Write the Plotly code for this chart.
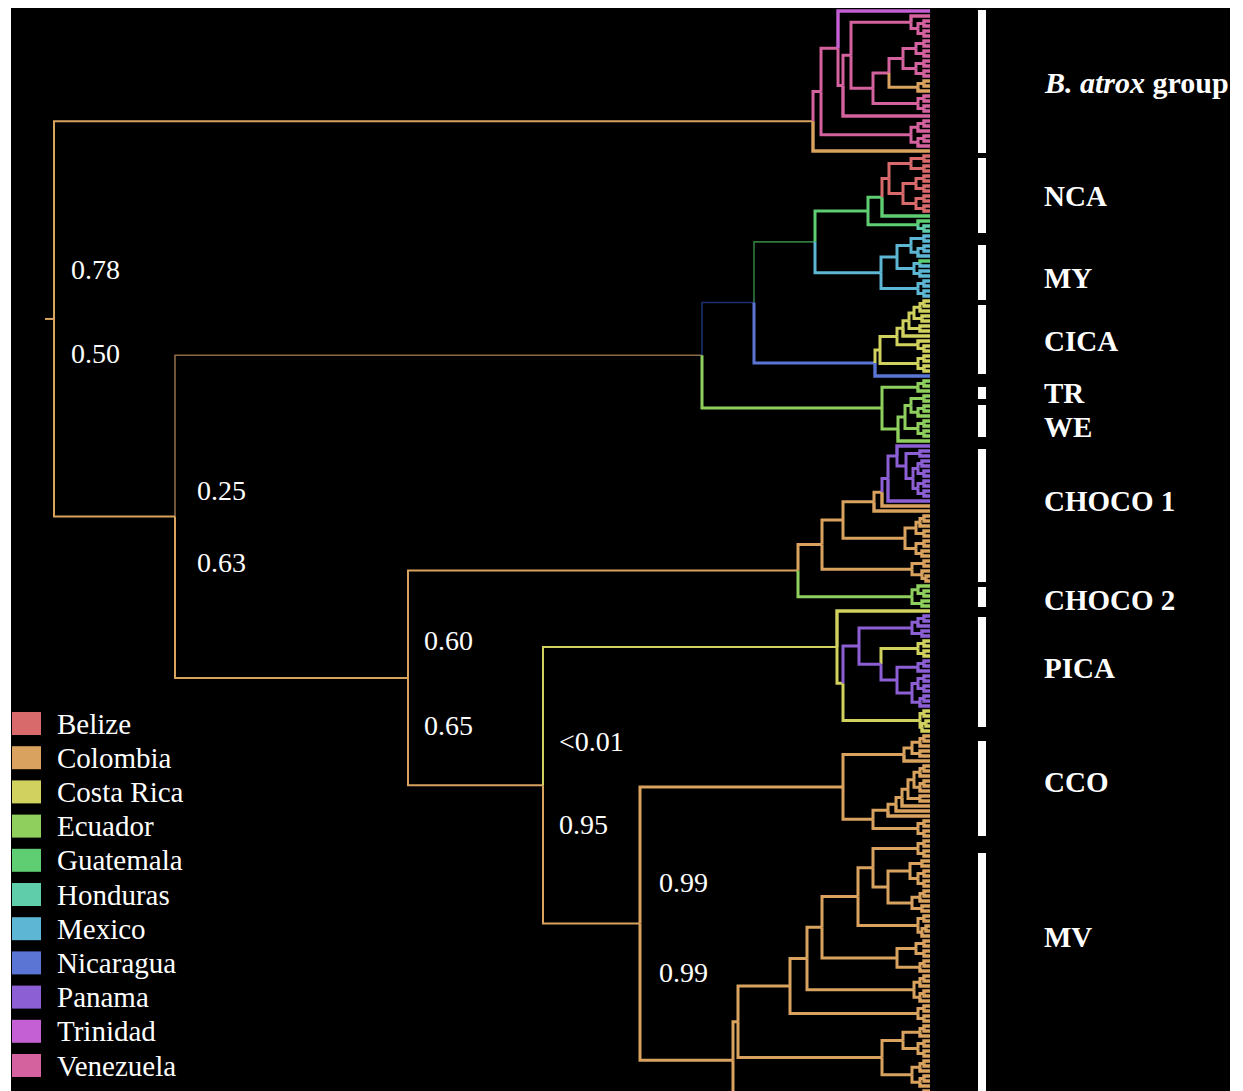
import plotly.graph_objects as go

# ---------------- DATA ----------------
COUNTRIES = ["Belize", "Colombia", "Costa Rica", "Ecuador", "Guatemala", "Honduras",
             "Mexico", "Nicaragua", "Panama", "Trinidad", "Venezuela"]
CODES = ["BZ", "CO", "CR", "EC", "GT", "HN", "MX", "NI", "PA", "TT", "VE"]
COUNTRY_COLORS = ["#d86a6c", "#d9a35f", "#d0d15e", "#8ecf5d", "#5fcd72", "#5fcdaa",
                  "#5cb6d4", "#5b75d4", "#8c5fd4", "#c45fd4", "#d4629e"]
# uncertain ancestral states (dim colours)
UNCERTAIN_STATES = ["COd", "NId", "GTd"]
UNCERTAIN_COLORS = ["#8c6a45", "#1d3070", "#2f7a3c"]

TIP_DEPTH = 876      # all tips contemporaneous
ROOT_STUB = 9

# Tree in a Newick-like notation: (children)depth[:state][#name]
# --- B. atrox group
R1 = "(VE,((VE,VE)870,(VE,VE)870)864)857"
N849 = "(((VE,VE)870,(VE,VE)870)862,((VE,VE)870,(VE,VE)870)862)849"
ORG = "((CO,CO)870,CO)864"
P5B = "((VE,VE)870,(VE,VE)870)864"
Q = "(((VE,VE)870,VE)864,((VE,VE)870,VE)864)857"
P5 = f"(({N849},{ORG})835:VE,{P5B})819:VE"
P4 = f"({R1},{P5})797:VE"
P3 = f"({P4},VE)789:VE"
P2 = f"(TT,{P3})784:VE"
P1 = f"({P2},{Q})767:VE"
BATROX = f"({P1},CO)759:CO"
# --- NCA + MY
RED = "(((BZ,BZ)870,(BZ,BZ)870)857,(((BZ,BZ)870,(BZ,BZ)870)862,((BZ,BZ)870,(BZ,BZ)870)862)849)835"
NCA = f"(({RED},GT)828:GT,(GT,(HN,HN)870)864:GT)814:GT"
MY_A = "((MX,MX)870,((MX,MX)870,MX)864)857"
MY_B = "((GT,MX)866:MX,(MX,MX)866)860:MX"
MY_C = "((MX,MX)870,(MX,MX)870)864"
MY = f"(({MY_A},{MY_B})843:MX,{MY_C})827:MX"
N815 = f"({NCA},{MY})761:GTd"
# --- CICA
CR_A = "((CR,CR)870,CR)866"
CR_C = f"({CR_A},(CR,CR)868)860"
CR_E = f"({CR_C},(CR,CR)866)855"
CR_F = f"({CR_E},CR)849"
CR_H = f"({CR_F},(CR,(CR,CR)870)864)843"
CRCL = f"({CR_H},((CR,CR)870,(CR,CR)870)864)826"
CICA = f"({CRCL},NI)821:NI"
N754 = f"({N815},{CICA})700:NId"
# --- TR / WE
TRC = "((EC,EC)870,EC)864"
WEB = "((((EC,EC)870,((EC,EC)870,EC)864)857,((EC,EC)870,(EC,EC)870)864)851,EC)844"
WE = f"({TRC},{WEB})828"
N702 = f"({N754},{WE})648:COd"
# --- CHOCO
PAN = "((PA,((PA,PA)866,(((PA,PA)868,(PA,PA)870)864,((PA,PA)870,(PA,PA)870)864)859)852)843,PA)834"
N882C = f"({PAN},CO)828:CO"
N874C = f"({N882C},CO)820:CO"
B905 = "((((CO,CO)870,CO)866,(CO,CO)870)862,((CO,CO)870,(CO,CO)868)862)851"
N843C = f"({N874C},{B905})789:CO"
B912 = "((CO,CO)870,(CO,(CO,CO)872)868)858"
N822C = f"({N843C},{B912})768:CO"
GRN = "((EC,(EC,EC)870)864,(EC,EC)868)858"
CHOCO = f"({N822C},{GRN})744:CO"
# --- PICA
PAB1 = "(((PA,PA)870,PA)864,(PA,PA)868)858"
CRB = "((CR,CR)870,(CR,CR)870)864"
PAB2 = "((PA,PA)870,PA)864"
PAB3 = "(((PA,PA)870,(PA,PA)870)864,((PA,PA)870,PA)866)858"
CRB2 = "((CR,CR)870,((CR,CR)872,CR)868)866"
N897P = f"({PAB2},{PAB3})843"
N881P = f"({CRB},{N897P})827:PA"
N859P = f"({PAB1},{N881P})805:PA"
N843P = f"({N859P},{CRB2})789:CR"
PICA = f"(CR,{N843P})783:CR"
# --- CCO
B1 = "(((CO,CO)870,CO)866,(CO,CO)866)858"
N904 = f"({B1},CO)850"
L_A = "((CO,CO)870,CO)866"
L_W = f"({L_A},((CO,CO)870,CO)866)860"
L_Z = f"({L_W},(CO,CO)866)854"
LAD = f"((({L_Z},CO)848,CO)842,CO)834"
BB = "((CO,CO)870,(CO,CO)870)864"
CCO = f"({N904},({LAD},{BB})819)789"
# --- MV
T873A = "((CO,CO)870,(CO,CO)870)864"
T888 = "(((CO,CO)868,((CO,CO)870,(CO,CO)870)864)856,(((CO,CO)870,CO)866,(CO,CO)868)858)834"
B930 = "((CO,CO)870,((CO,CO)872,CO)868)864"
T897 = "(((CO,CO)870,(CO,CO)870)862,((CO,CO)870,CO)866)843"
B995 = "(((CO,CO)870,CO)866,((CO,CO)870,CO)866)860"
B1013 = "((CO,CO)870,(CO,CO)870)864"
T882B = "((((CO,CO)870,CO)866,((CO,CO)870,(CO,CO)870)864)849,(((CO,CO)870,CO)866,((CO,CO)870,CO)866)858)828"
BOT = "((CO,CO)870,(CO,CO)870)850"
N822M = f"((({T873A},{T888})819,{B930})804,{T897})768"
MV = f"(((({N822M},{B995})753,{B1013})736,{T882B})684,{BOT})679"
N640 = f"({CCO},{MV})586#n640"
N543 = f"({PICA},{N640})489:CO#n543"
N408 = f"({CHOCO},{N543})354:CO#n408"
N175 = f"({N702},{N408})121:CO#n175"
TREE = f"({BATROX},{N175})0:CO#root"

# posterior supports (above / below node)
SUPPORT_NODES = ["root", "n175", "n408", "n543", "n640"]
SUPPORT_UPPER = ["0.78", "0.25", "0.60", "<0.01", "0.99"]
SUPPORT_LOWER = ["0.50", "0.63", "0.65", "0.95", "0.99"]

# clades (tip-index spans)
CLADE_NAMES = ["<b><i>B. atrox</i> group</b>", "<b>NCA</b>", "<b>MY</b>", "<b>CICA</b>", "<b>TR</b>",
               "<b>WE</b>", "<b>CHOCO 1</b>", "<b>CHOCO 2</b>", "<b>PICA</b>", "<b>CCO</b>", "<b>MV</b>"]
CLADE_START = [-0.2, 29.4, 46.8, 58.8, 75.2, 78.8, 87.6, 115.2, 121.2, 146.0, 168.4]
CLADE_END = [28.4, 44.4, 57.8, 72.6, 77.6, 85.2, 114.2, 119.2, 143.2, 165.0, 222.0]

# ---------------- LAYOUT / STYLE ----------------
W, H = 1243, 1091
SUP_DX = [15, 20, 14, 14, 17]
SUP_DY_UP = [49, 26, 37, 44, 41.5]
SUP_DY_LO = [35, 46, 48, 39, 48.5]
LABEL_DY = [0.5, 0.5, 5.5, 1.5, 0, 6, -14.5, 3, -4, -6.5, -50]
LABEL_SIZE = [30, 29, 29, 29, 29, 29, 29, 29, 29, 29, 29]
FONT = "Liberation Serif, Times New Roman, serif"

color_of = dict(zip(CODES, COUNTRY_COLORS))
color_of.update(dict(zip(UNCERTAIN_STATES, UNCERTAIN_COLORS)))


def parse(s):
    pos = 0

    def read_label():
        nonlocal pos
        st = pos
        while pos < len(s) and s[pos] not in ",)":
            pos += 1
        return s[st:pos]

    def node():
        nonlocal pos
        if s[pos] == "(":
            pos += 1
            kids = [node()]
            while s[pos] == ",":
                pos += 1
                kids.append(node())
            pos += 1
            lab = read_label()
            name = None
            if "#" in lab:
                lab, name = lab.split("#")
            state = None
            if ":" in lab:
                lab, state = lab.split(":")
            return {"kids": kids, "depth": float(lab), "state": state, "name": name}
        code = read_label()
        return {"kids": [], "depth": TIP_DEPTH, "state": code, "name": None}

    return node()


root = parse(TREE)
counter = [0]
named = {}


def layout_tree(n):
    if not n["kids"]:
        n["y"] = counter[0]
        counter[0] += 1
        return [n["state"]]
    leaves = []
    for k in n["kids"]:
        leaves += layout_tree(k)
    n["y"] = (n["kids"][0]["y"] + n["kids"][-1]["y"]) / 2
    if n["state"] is None:
        n["state"] = max(set(leaves), key=leaves.count)
    if n["name"]:
        named[n["name"]] = n
    return leaves


layout_tree(root)

groups = {}


def width_for(parent, child):
    if child["state"] in UNCERTAIN_STATES:
        return 1.6
    if not child["kids"]:
        return 3.4
    if parent["depth"] < 500:
        return 2.0
    return 3.0


def collect(n):
    for k in n["kids"]:
        key = (color_of[k["state"]], width_for(n, k))
        xs, ys = groups.setdefault(key, ([], []))
        xs += [n["depth"], n["depth"], k["depth"], None]
        ys += [n["y"], k["y"], k["y"], None]
        collect(k)


collect(root)
# root stub
key = (color_of[root["state"]], 2.0)
xs, ys = groups.setdefault(key, ([], []))
xs += [root["depth"] - ROOT_STUB, root["depth"], None]
ys += [root["y"], root["y"], None]

fig = go.Figure()
for (col, w), (xs, ys) in sorted(groups.items(), key=lambda kv: kv[0][1]):
    fig.add_trace(go.Scatter(x=xs, y=ys, mode="lines", line=dict(color=col, width=w),
                             hoverinfo="skip", showlegend=False))

# clade bars
BAR_X = 928
bx, by = [], []
for s0, s1 in zip(CLADE_START, CLADE_END):
    bx += [BAR_X, BAR_X, None]
    by += [s0, s1, None]
fig.add_trace(go.Scatter(x=bx, y=by, mode="lines", line=dict(color="white", width=8),
                         hoverinfo="skip", showlegend=False))

annotations = []
for name, s0, s1, dy, fs in zip(CLADE_NAMES, CLADE_START, CLADE_END, LABEL_DY, LABEL_SIZE):
    annotations.append(dict(x=BAR_X + 60, y=(s0 + s1) / 2, text=name, showarrow=False,
                            xanchor="left", yanchor="middle", yshift=-dy,
                            font=dict(family=FONT, size=fs, color="white")))

for nm, up, lo, dx, du, dl in zip(SUPPORT_NODES, SUPPORT_UPPER, SUPPORT_LOWER, SUP_DX, SUP_DY_UP, SUP_DY_LO):
    n = named[nm]
    for txt, sh in ((up, du), (lo, -dl)):
        annotations.append(dict(x=n["depth"], y=n["y"], text=txt, showarrow=False,
                                xanchor="left", yanchor="middle", xshift=dx, yshift=sh,
                                font=dict(family=FONT, size=28, color="white")))


def px(xp):
    return xp / W


def py(yp):
    return 1 - yp / H


shapes = [dict(type="rect", xref="paper", yref="paper", x0=px(11), x1=px(1230), y0=0, y1=py(8),
               fillcolor="black", line=dict(width=0), layer="below")]
LEG_TOP, LEG_STEP, LEG_BOX = 712, 34.2, 23
for i, (cname, col) in enumerate(zip(COUNTRIES, COUNTRY_COLORS)):
    top = LEG_TOP + LEG_STEP * i
    shapes.append(dict(type="rect", xref="paper", yref="paper", x0=px(12), x1=px(41),
                       y0=py(top + LEG_BOX), y1=py(top), fillcolor=col, line=dict(width=0)))
    annotations.append(dict(xref="paper", yref="paper", x=px(55), y=py(top + 11.5), text=cname,
                            showarrow=False, xanchor="left", yanchor="middle",
                            font=dict(family=FONT, size=29, color="white")))

fig.update_layout(
    width=W, height=H, margin=dict(l=0, r=0, t=0, b=0),
    paper_bgcolor="white", plot_bgcolor="rgba(0,0,0,0)",
    xaxis=dict(range=[-54, W - 54], visible=False, fixedrange=True),
    yaxis=dict(range=[(H - 11) / 5, -11 / 5], visible=False, fixedrange=True),
    shapes=shapes, annotations=annotations, showlegend=False,
)

fig.write_html("out.html", config={"displayModeBar": False, "staticPlot": True},
               post_script="document.body.style.margin='0';document.body.style.overflow='hidden';")
